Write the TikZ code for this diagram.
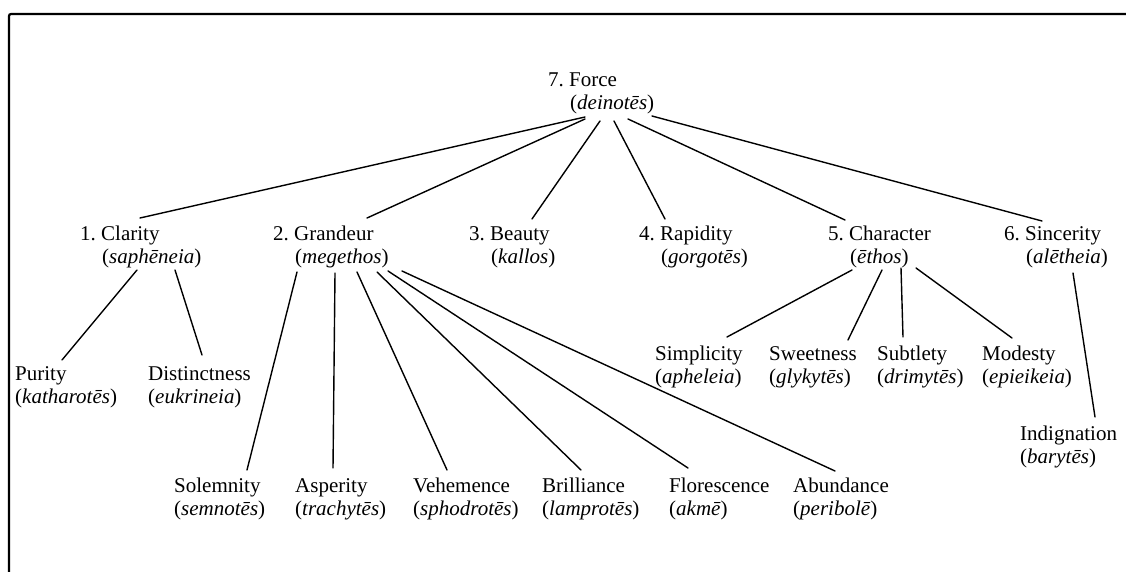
\documentclass[tikz,border=0pt]{standalone}
\usepackage{fontspec}
\setmainfont{Liberation Serif}
\frenchspacing
\newcommand{\gk}[1]{(\textit{#1})}
\newcommand{\numind}{\hspace*{22pt}}
\begin{document}
\begin{tikzpicture}[x=1pt,y=-1pt,
  lbl/.style={anchor=north west, inner sep=0pt, align=left, font=\fontsize{21}{23}\selectfont\frenchspacing},
  conn/.style={line width=1.4pt, line cap=round},
  frame/.style={line width=2.2pt, rounded corners=2pt}]
\useasboundingbox (0,0) rectangle (1126,572);
\draw[frame] (9,572) -- (9,14) -- (1126,14);

% top
\node[lbl] (force) at (548,73) {7. Force\\\numind\gk{deinotēs}};
% first level
\node[lbl] (clarity) at (80,226) {1. Clarity\\\numind\gk{saphēneia}};
\node[lbl] (grandeur) at (273,226) {2. Grandeur\\\numind\gk{megethos}};
\node[lbl] (beauty) at (469,226) {3. Beauty\\\numind\gk{kallos}};
\node[lbl] (rapidity) at (639,226) {4. Rapidity\\\numind\gk{gorgotēs}};
\node[lbl] (character) at (828,226) {5. Character\\\numind\gk{ēthos}};
\node[lbl] (sincerity) at (1004,226) {6. Sincerity\\\numind\gk{alētheia}};
% clarity children
\node[lbl] (purity) at (15,366) {Purity\\\gk{katharotēs}};
\node[lbl] (distinct) at (148,366) {Distinctness\\\gk{eukrineia}};
% character children
\node[lbl] (simplicity) at (655,346) {Simplicity\\\gk{apheleia}};
\node[lbl] (sweetness) at (769,346) {Sweetness\\\gk{glykytēs}};
\node[lbl] (subtlety) at (877,346) {Subtlety\\\gk{drimytēs}};
\node[lbl] (modesty) at (982,346) {Modesty\\\gk{epieikeia}};
% sincerity child
\node[lbl] (indignation) at (1020,426) {Indignation\\\gk{barytēs}};
% grandeur children
\node[lbl] (solemnity) at (174,478) {Solemnity\\\gk{semnotēs}};
\node[lbl] (asperity) at (295,478) {Asperity\\\gk{trachytēs}};
\node[lbl] (vehemence) at (413,478) {Vehemence\\\gk{sphodrotēs}};
\node[lbl] (brilliance) at (542,478) {Brilliance\\\gk{lamprotēs}};
\node[lbl] (florescence) at (669,478) {Florescence\\\gk{akmē}};
\node[lbl] (abundance) at (793,478) {Abundance\\\gk{peribolē}};

% connectors from Force
\draw[conn] ([shift={(37,44)}]force.north west) -- ([shift={(60,-8)}]clarity.north west);
\draw[conn] ([shift={(37,46)}]force.north west) -- ([shift={(94,-8)}]grandeur.north west);
\draw[conn] ([shift={(52,48)}]force.north west) -- ([shift={(63,-7)}]beauty.north west);
\draw[conn] ([shift={(66,48)}]force.north west) -- ([shift={(26,-7)}]rapidity.north west);
\draw[conn] ([shift={(80,46)}]force.north west) -- ([shift={(17,-6)}]character.north west);
\draw[conn] ([shift={(104,43)}]force.north west) -- ([shift={(38,-5)}]sincerity.north west);
% Clarity
\draw[conn] ([shift={(57,44)}]clarity.north west) -- ([shift={(47,-6)}]purity.north west);
\draw[conn] ([shift={(95,44)}]clarity.north west) -- ([shift={(54,-11)}]distinct.north west);
% Grandeur
\draw[conn] ([shift={(24,46)}]grandeur.north west) -- ([shift={(73,-8)}]solemnity.north west);
\draw[conn] ([shift={(62,47)}]grandeur.north west) -- ([shift={(38,-10)}]asperity.north west);
\draw[conn] ([shift={(84,46)}]grandeur.north west) -- ([shift={(34,-8)}]vehemence.north west);
\draw[conn] ([shift={(104,46)}]grandeur.north west) -- ([shift={(39,-8)}]brilliance.north west);
\draw[conn] ([shift={(115,45)}]grandeur.north west) -- ([shift={(19,-10)}]florescence.north west);
\draw[conn] ([shift={(129,45)}]grandeur.north west) -- ([shift={(42,-7)}]abundance.north west);
% Character
\draw[conn] ([shift={(24,44)}]character.north west) -- ([shift={(72,-9)}]simplicity.north west);
\draw[conn] ([shift={(54,44)}]character.north west) -- ([shift={(79,-6)}]sweetness.north west);
\draw[conn] ([shift={(73,42)}]character.north west) -- ([shift={(26,-9)}]subtlety.north west);
\draw[conn] ([shift={(88,42)}]character.north west) -- ([shift={(30,-8)}]modesty.north west);
% Sincerity
\draw[conn] ([shift={(69,47)}]sincerity.north west) -- ([shift={(75,-9)}]indignation.north west);
\end{tikzpicture}
\end{document}
